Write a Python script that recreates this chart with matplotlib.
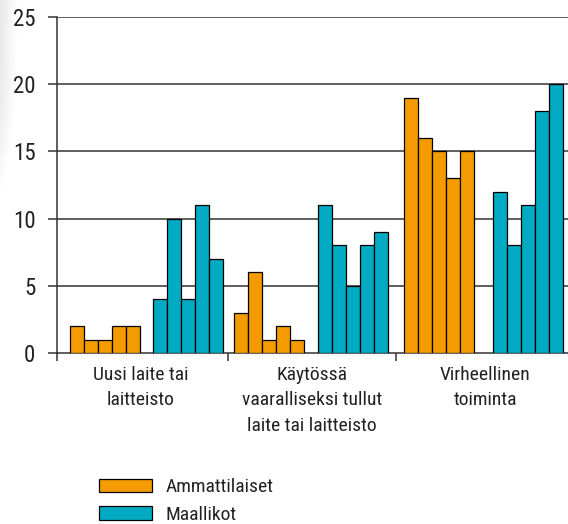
import matplotlib
matplotlib.use("Agg")
import matplotlib.pyplot as plt
import numpy as np

# Data
groups = ["Uusi laite tai\nlaitteisto",
          "Käytössä\nvaaralliseksi tullut\nlaite tai laitteisto",
          "Virheellinen\ntoiminta"]
series_names = ["Ammattilaiset", "Maallikot"]
ammattilaiset = [[2, 1, 1, 2, 2],
                 [3, 6, 1, 2, 1],
                 [19, 16, 15, 13, 15]]
maallikot = [[4, 10, 4, 11, 7],
             [11, 8, 5, 8, 9],
             [12, 8, 11, 18, 20]]
y_ticks = [0, 5, 10, 15, 20, 25]

# Layout in bar-width units (one bar = 1);
# the original spacing is slightly uneven from group to group.
START_A = [0.93, 12.66, 24.79]      # first orange bar of each group
START_M = [6.84, 18.66, 31.12]      # first teal bar of each group
LABEL_X = [6.0, 18.2, 30.6]
SEP_X = [0, 12.2, 24.2]
X_MAX = 36.5

COL_ORANGE = "#F39B00"
COL_TEAL = "#00AAC3"
COL_TEXT = "#222222"
COL_GRID = "#333333"

# condensed face if there is one, otherwise an Arial-like sans
plt.rcParams["font.family"] = ["Roboto Condensed", "Liberation Sans Narrow",
                               "Liberation Sans", "DejaVu Sans"]

fig = plt.figure(figsize=(5.68, 5.24), dpi=100)

# faint shadow at the left edge, as in the scan
shade = fig.add_axes([0, 0.63, 0.03, 0.37])
gx = np.linspace(0.91, 1.0, 40)[None, :]
gy = np.linspace(0.0, 1.0, 60)[:, None] ** 3
shade.imshow(np.clip(gx + gy * 0.09, 0, 1), cmap="gray", vmin=0, vmax=1,
             aspect="auto")
shade.axis("off")

ax = fig.add_axes([57 / 568, 1 - 353 / 524, 1 - 57 / 568, (353 - 17) / 524])

for g in range(len(groups)):
    xa = START_A[g] + np.arange(len(ammattilaiset[g]))
    xm = START_M[g] + np.arange(len(maallikot[g]))
    ax.bar(xa, ammattilaiset[g], width=1, align="edge", color=COL_ORANGE,
           edgecolor="black", linewidth=0.9, zorder=3,
           label=series_names[0] if g == 0 else None)
    ax.bar(xm, maallikot[g], width=1, align="edge", color=COL_TEAL,
           edgecolor="black", linewidth=0.9, zorder=3,
           label=series_names[1] if g == 0 else None)

ax.set_xlim(0, X_MAX)
ax.set_ylim(0, 25)

ax.set_yticks(y_ticks)
ax.set_yticklabels([str(v) for v in y_ticks], fontsize=16.5, color=COL_TEXT)
ax.tick_params(axis="y", length=6.5, width=1.1, pad=9, color=COL_GRID)
for v in y_ticks[1:]:
    ax.axhline(v, color=COL_GRID, linewidth=1.1, zorder=1)

ax.set_xticks(LABEL_X)
ax.set_xticklabels(groups, fontsize=14, color=COL_TEXT, linespacing=1.55)
ax.tick_params(axis="x", length=0, pad=9)
ax.set_xticks(SEP_X, minor=True)
ax.tick_params(axis="x", which="minor", length=6, width=1.1, color=COL_GRID)

for side in ["top", "right"]:
    ax.spines[side].set_visible(False)
ax.spines["left"].set_linewidth(1.1)
ax.spines["left"].set_color(COL_GRID)
ax.spines["bottom"].set_linewidth(1.1)
ax.spines["bottom"].set_color(COL_GRID)

ax.legend(loc="upper left", bbox_to_anchor=(99 / 568, 1 - 478 / 524),
          bbox_transform=fig.transFigure, frameon=False, fontsize=14,
          handlelength=2.7, handleheight=0.68, handletextpad=0.7,
          labelspacing=0.5, borderpad=0, borderaxespad=0,
          labelcolor=COL_TEXT)

fig.savefig("out.png", dpi=100)
